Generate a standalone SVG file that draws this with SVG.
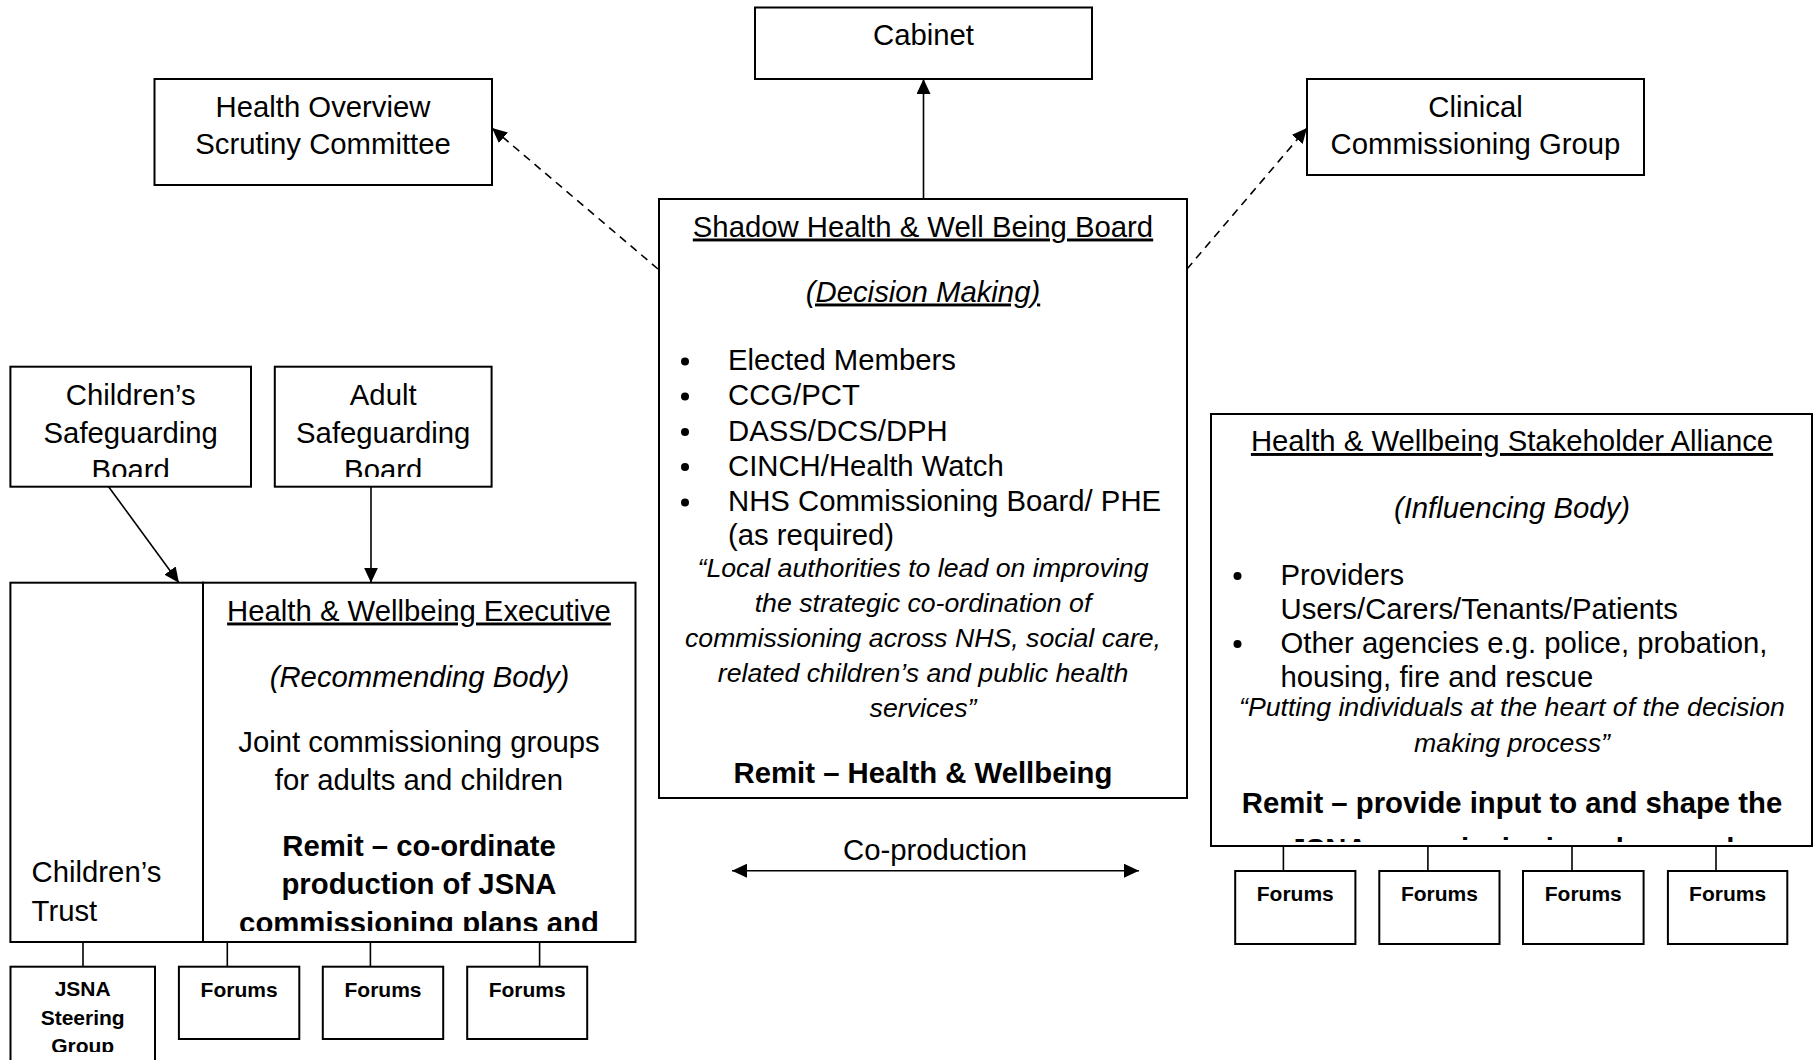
<svg xmlns="http://www.w3.org/2000/svg" width="1814" height="1060" viewBox="0 0 1814 1060">
<style>
  .box { fill: #fff; stroke: #000; stroke-width: 2; }
  .t { font-family: "Liberation Sans", Arial, sans-serif; font-size: 29.3px; fill: #000; }
  .c { text-anchor: middle; }
  .i { font-style: italic; }
  .q { font-style: italic; font-size: 26.7px; }
  .b { font-weight: bold; }
  .u { text-decoration: underline; }
  .f { font-family: "Liberation Sans", Arial, sans-serif; font-size: 21px; font-weight: bold; text-anchor: middle; fill: #000; }
  .ln { stroke: #000; stroke-width: 1.6; fill: none; }
  .dash { stroke-dasharray: 8 6; }
</style>
<defs>
  <marker id="ah" markerUnits="userSpaceOnUse" markerWidth="15" markerHeight="14" refX="15" refY="7" orient="auto-start-reverse" viewBox="0 0 15 14">
    <path d="M0,0 L15,7 L0,14 z" fill="#000"/>
  </marker>
  <clipPath id="clipCSB"><rect x="10" y="366" width="242" height="111"/></clipPath>
  <clipPath id="clipASB"><rect x="274" y="366" width="218" height="111"/></clipPath>
  <clipPath id="clipExec"><rect x="203" y="583" width="432" height="348"/></clipPath>
  <clipPath id="clipSA"><rect x="1211" y="414" width="601" height="428"/></clipPath>
  <clipPath id="clipJSNA"><rect x="10" y="966" width="146" height="86"/></clipPath>
</defs>
<rect width="1814" height="1060" fill="#fff"/>

<g id="connectors">
  <line class="ln" x1="923.5" y1="199" x2="923.5" y2="79" marker-end="url(#ah)"/>
  <line class="ln dash" x1="658" y1="269" x2="492" y2="128" marker-end="url(#ah)"/>
  <line class="ln dash" x1="1187" y1="269" x2="1307" y2="128" marker-end="url(#ah)"/>
  <line class="ln" x1="108.6" y1="486.7" x2="178.9" y2="582.7" marker-end="url(#ah)"/>
  <line class="ln" x1="371" y1="486.7" x2="371" y2="582.7" marker-end="url(#ah)"/>
  <line class="ln" x1="178.9" y1="775.3" x2="226.4" y2="775.3" marker-end="url(#ah)"/>
  <line class="ln" x1="732" y1="870.7" x2="1139" y2="870.7" marker-start="url(#ah)" marker-end="url(#ah)"/>
  <line class="ln" x1="83" y1="942" x2="83" y2="966.7"/>
  <line class="ln" x1="227.3" y1="942" x2="227.3" y2="966.7"/>
  <line class="ln" x1="370.4" y1="942" x2="370.4" y2="966.7"/>
  <line class="ln" x1="539.6" y1="942" x2="539.6" y2="966.7"/>
  <line class="ln" x1="1283.4" y1="846" x2="1283.4" y2="871"/>
  <line class="ln" x1="1427.9" y1="846" x2="1427.9" y2="871"/>
  <line class="ln" x1="1572" y1="846" x2="1572" y2="871"/>
  <line class="ln" x1="1716" y1="846" x2="1716" y2="871"/>
  <text class="t c" x="935" y="860">Co-production</text>
</g>

<g id="cabinet">
  <rect class="box" x="755" y="7.5" width="337" height="71.5"/>
  <text class="t c" x="923.5" y="45">Cabinet</text>
</g>

<g id="hosc">
  <rect class="box" x="154.5" y="79" width="337.5" height="106"/>
  <text class="t c" x="323" y="116.7">Health Overview</text>
  <text class="t c" x="323" y="154">Scrutiny Committee</text>
</g>

<g id="ccg">
  <rect class="box" x="1307" y="79" width="337" height="96"/>
  <text class="t c" x="1475.5" y="116.7">Clinical</text>
  <text class="t c" x="1475.5" y="154.3">Commissioning Group</text>
</g>

<g id="shadow-board">
  <rect class="box" x="659" y="199" width="528" height="599"/>
  <text class="t c u" x="923" y="236.5">Shadow Health &amp; Well Being Board</text>
  <text class="t c i u" x="923" y="301.5">(Decision Making)</text>
  <circle cx="685" cy="361.5" r="4"/>
  <text class="t" x="728" y="370">Elected Members</text>
  <circle cx="685" cy="396.5" r="4"/>
  <text class="t" x="728" y="405">CCG/PCT</text>
  <circle cx="685" cy="432" r="4"/>
  <text class="t" x="728" y="440.5">DASS/DCS/DPH</text>
  <circle cx="685" cy="467" r="4"/>
  <text class="t" x="728" y="475.5">CINCH/Health Watch</text>
  <circle cx="685" cy="502.5" r="4"/>
  <text class="t" x="728" y="511">NHS Commissioning Board/ PHE</text>
  <text class="t" x="728" y="545">(as required)</text>
  <text class="t q c" x="923" y="576.7">“Local authorities to lead on improving</text>
  <text class="t q c" x="923" y="611.7">the strategic co-ordination of</text>
  <text class="t q c" x="923" y="646.7">commissioning across NHS, social care,</text>
  <text class="t q c" x="923" y="681.7">related children’s and public health</text>
  <text class="t q c" x="923" y="716.7">services”</text>
  <text class="t c b" x="923" y="783.3">Remit – Health &amp; Wellbeing</text>
</g>

<g id="stakeholder-alliance">
  <rect class="box" x="1211" y="414" width="601" height="432"/>
  <g clip-path="url(#clipSA)">
    <text class="t c u" x="1512" y="451">Health &amp; Wellbeing Stakeholder Alliance</text>
    <text class="t c i" x="1512" y="518">(Influencing Body)</text>
    <circle cx="1237.5" cy="576" r="4"/>
    <text class="t" x="1280.5" y="584.5">Providers</text>
    <text class="t" x="1280.5" y="618.5">Users/Carers/Tenants/Patients</text>
    <circle cx="1237.5" cy="644" r="4"/>
    <text class="t" x="1280.5" y="652.5">Other agencies e.g. police, probation,</text>
    <text class="t" x="1280.5" y="686.5">housing, fire and rescue</text>
    <text class="t q c" x="1512" y="716">“Putting individuals at the heart of the decision</text>
    <text class="t q c" x="1512" y="752">making process”</text>
    <text class="t c b" x="1512" y="813.3">Remit – provide input to and shape the</text>
    <text class="t c b" x="1512" y="858.5">JSNA commissioning plans and</text>
  </g>
</g>

<g id="childrens-safeguarding-board">
  <rect class="box" x="10.4" y="366.7" width="240.6" height="120"/>
  <g clip-path="url(#clipCSB)">
    <text class="t c" x="130.7" y="405">Children’s</text>
    <text class="t c" x="130.7" y="442.7">Safeguarding</text>
    <text class="t c" x="130.7" y="480.4">Board</text>
  </g>
</g>

<g id="adult-safeguarding-board">
  <rect class="box" x="274.8" y="366.7" width="216.8" height="120"/>
  <g clip-path="url(#clipASB)">
    <text class="t c" x="383.2" y="405">Adult</text>
    <text class="t c" x="383.2" y="442.7">Safeguarding</text>
    <text class="t c" x="383.2" y="480.4">Board</text>
  </g>
</g>

<g id="childrens-trust">
  <rect class="box" x="10.4" y="582.7" width="192.6" height="359.3"/>
  <text class="t" x="31.6" y="881.7">Children’s</text>
  <text class="t" x="31.6" y="920.7">Trust</text>
</g>

<g id="health-wellbeing-executive">
  <rect class="box" x="203" y="582.7" width="432.5" height="359.3"/>
  <g clip-path="url(#clipExec)">
    <text class="t c u" x="419" y="620.5">Health &amp; Wellbeing Executive</text>
    <text class="t c i" x="419.5" y="686.5">(Recommending Body)</text>
    <text class="t c" x="419" y="752">Joint commissioning groups</text>
    <text class="t c" x="419" y="789.5">for adults and children</text>
    <text class="t c b" x="419" y="856">Remit – co-ordinate</text>
    <text class="t c b" x="419" y="894.3">production of JSNA</text>
    <text class="t c b" x="419" y="932.6">commissioning plans and</text>
  </g>
</g>

<g id="jsna-steering-group">
  <rect class="box" x="10.5" y="966.7" width="144.5" height="110"/>
  <g clip-path="url(#clipJSNA)">
    <text class="f" x="82.7" y="996">JSNA</text>
    <text class="f" x="82.7" y="1024.5">Steering</text>
    <text class="f" x="82.7" y="1053">Group</text>
  </g>
</g>

<g id="forums-left-1">
  <rect class="box" x="178.9" y="966.7" width="120.4" height="72.3"/>
  <text class="f" x="239.1" y="996.7">Forums</text>
</g>
<g id="forums-left-2">
  <rect class="box" x="322.8" y="966.7" width="120.4" height="72.3"/>
  <text class="f" x="383" y="996.7">Forums</text>
</g>
<g id="forums-left-3">
  <rect class="box" x="467.2" y="966.7" width="120" height="72.3"/>
  <text class="f" x="527.2" y="996.7">Forums</text>
</g>

<g id="forums-right-1">
  <rect class="box" x="1235.2" y="871" width="120.2" height="73"/>
  <text class="f" x="1295.3" y="900.7">Forums</text>
</g>
<g id="forums-right-2">
  <rect class="box" x="1379.3" y="871" width="120.2" height="73"/>
  <text class="f" x="1439.4" y="900.7">Forums</text>
</g>
<g id="forums-right-3">
  <rect class="box" x="1523" y="871" width="120.6" height="73"/>
  <text class="f" x="1583.3" y="900.7">Forums</text>
</g>
<g id="forums-right-4">
  <rect class="box" x="1667.9" y="871" width="119.4" height="73"/>
  <text class="f" x="1727.6" y="900.7">Forums</text>
</g>
</svg>
